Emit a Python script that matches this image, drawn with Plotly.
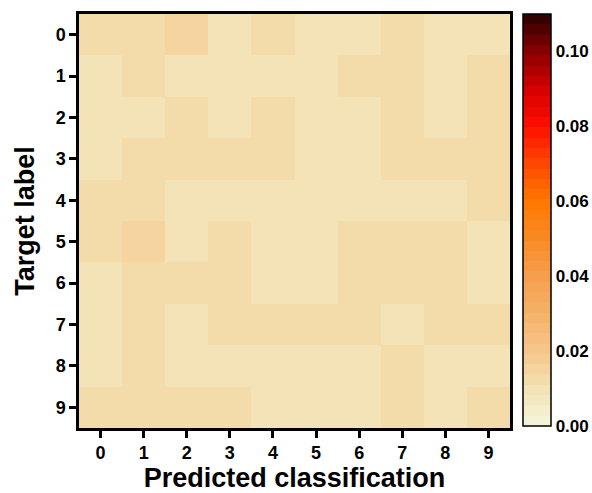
import numpy as np
import plotly.graph_objects as go

# Class labels along both axes
classes = ["0", "1", "2", "3", "4", "5", "6", "7", "8", "9"]

# Normalised confusion matrix (rows: target label, columns: predicted class)
row_0 = [0.0120, 0.0120, 0.0145, 0.0095, 0.0120, 0.0095, 0.0095, 0.0120, 0.0095, 0.0095]
row_1 = [0.0095, 0.0120, 0.0095, 0.0095, 0.0095, 0.0095, 0.0120, 0.0120, 0.0095, 0.0120]
row_2 = [0.0095, 0.0095, 0.0120, 0.0095, 0.0120, 0.0095, 0.0095, 0.0120, 0.0095, 0.0120]
row_3 = [0.0095, 0.0120, 0.0120, 0.0120, 0.0120, 0.0095, 0.0095, 0.0120, 0.0120, 0.0120]
row_4 = [0.0120, 0.0120, 0.0095, 0.0095, 0.0095, 0.0095, 0.0095, 0.0095, 0.0095, 0.0120]
row_5 = [0.0120, 0.0145, 0.0095, 0.0120, 0.0095, 0.0095, 0.0120, 0.0120, 0.0120, 0.0095]
row_6 = [0.0095, 0.0120, 0.0120, 0.0120, 0.0095, 0.0095, 0.0120, 0.0120, 0.0120, 0.0095]
row_7 = [0.0095, 0.0120, 0.0095, 0.0120, 0.0120, 0.0120, 0.0120, 0.0095, 0.0120, 0.0120]
row_8 = [0.0095, 0.0120, 0.0095, 0.0095, 0.0095, 0.0095, 0.0095, 0.0120, 0.0095, 0.0095]
row_9 = [0.0120, 0.0120, 0.0120, 0.0120, 0.0095, 0.0095, 0.0095, 0.0120, 0.0095, 0.0120]
matrix = [row_0, row_1, row_2, row_3, row_4, row_5, row_6, row_7, row_8, row_9]

z_min, z_max = 0.0, 0.11
colorbar_ticks = [0.00, 0.02, 0.04, 0.06, 0.08, 0.10]

# Anchor colours of the "fire" palette (value, hex)
anchors = [
    (0.000, "#F4F6DC"),
    (0.010, "#F3E2B4"),
    (0.020, "#F6C68C"),
    (0.030, "#F5B268"),
    (0.040, "#F69E4E"),
    (0.050, "#F98A24"),
    (0.060, "#FF7800"),
    (0.070, "#FF4800"),
    (0.080, "#FF0E00"),
    (0.090, "#D40000"),
    (0.100, "#880000"),
    (0.110, "#280000"),
]


def hex_to_rgb(h):
    h = h.lstrip("#")
    return np.array([int(h[i:i + 2], 16) for i in (0, 2, 4)], dtype=float)


def palette_at(v):
    vals = [a[0] for a in anchors]
    cols = np.array([hex_to_rgb(a[1]) for a in anchors])
    rgb = [np.interp(v, vals, cols[:, k]) for k in range(3)]
    return "rgb({:.0f},{:.0f},{:.0f})".format(*rgb)


# Stepped colour scale with 40 bands
n_bands = 40
colorscale = []
for k in range(n_bands):
    lo, hi = k / n_bands, (k + 1) / n_bands
    c = palette_at(z_min + (lo + hi) / 2 * (z_max - z_min))
    colorscale.append([lo, c])
    colorscale.append([hi, c])

font_family = "Arial, Liberation Sans, sans-serif"

fig = go.Figure(
    go.Heatmap(
        z=matrix,
        x=classes,
        y=classes,
        zmin=z_min,
        zmax=z_max,
        colorscale=colorscale,
        xgap=0,
        ygap=0,
        colorbar=dict(
            x=1.03,
            xanchor="left",
            xpad=0,
            y=1.0,
            yanchor="top",
            ypad=0,
            lenmode="pixels",
            len=412,
            thickness=28,
            outlinewidth=1.5,
            outlinecolor="black",
            tickvals=colorbar_ticks,
            ticktext=[f"{t:.2f}" for t in colorbar_ticks],
            ticks="",
            tickfont=dict(family=font_family, size=17, color="black", weight="bold"),
        ),
    )
)

axis_common = dict(
    showline=True,
    linewidth=2.5,
    linecolor="black",
    mirror=True,
    ticks="outside",
    ticklen=7,
    tickwidth=2.5,
    tickcolor="black",
    showgrid=False,
    zeroline=False,
    tickfont=dict(family=font_family, size=18, color="black", weight="bold"),
)

fig.update_layout(
    width=592,
    height=493,
    margin=dict(l=79, r=82, t=14, b=65, autoexpand=False),
    paper_bgcolor="white",
    plot_bgcolor="white",
    xaxis=dict(
        **axis_common,
        title=dict(text="Predicted classification",
                   font=dict(family=font_family, size=27, color="black", weight="bold"),
                   standoff=6),
    ),
    yaxis=dict(
        **axis_common,
        autorange="reversed",
        title=dict(text="Target label",
                   font=dict(family=font_family, size=27, color="black", weight="bold"),
                   standoff=14),
    ),
)

fig.write_html("out.html")
